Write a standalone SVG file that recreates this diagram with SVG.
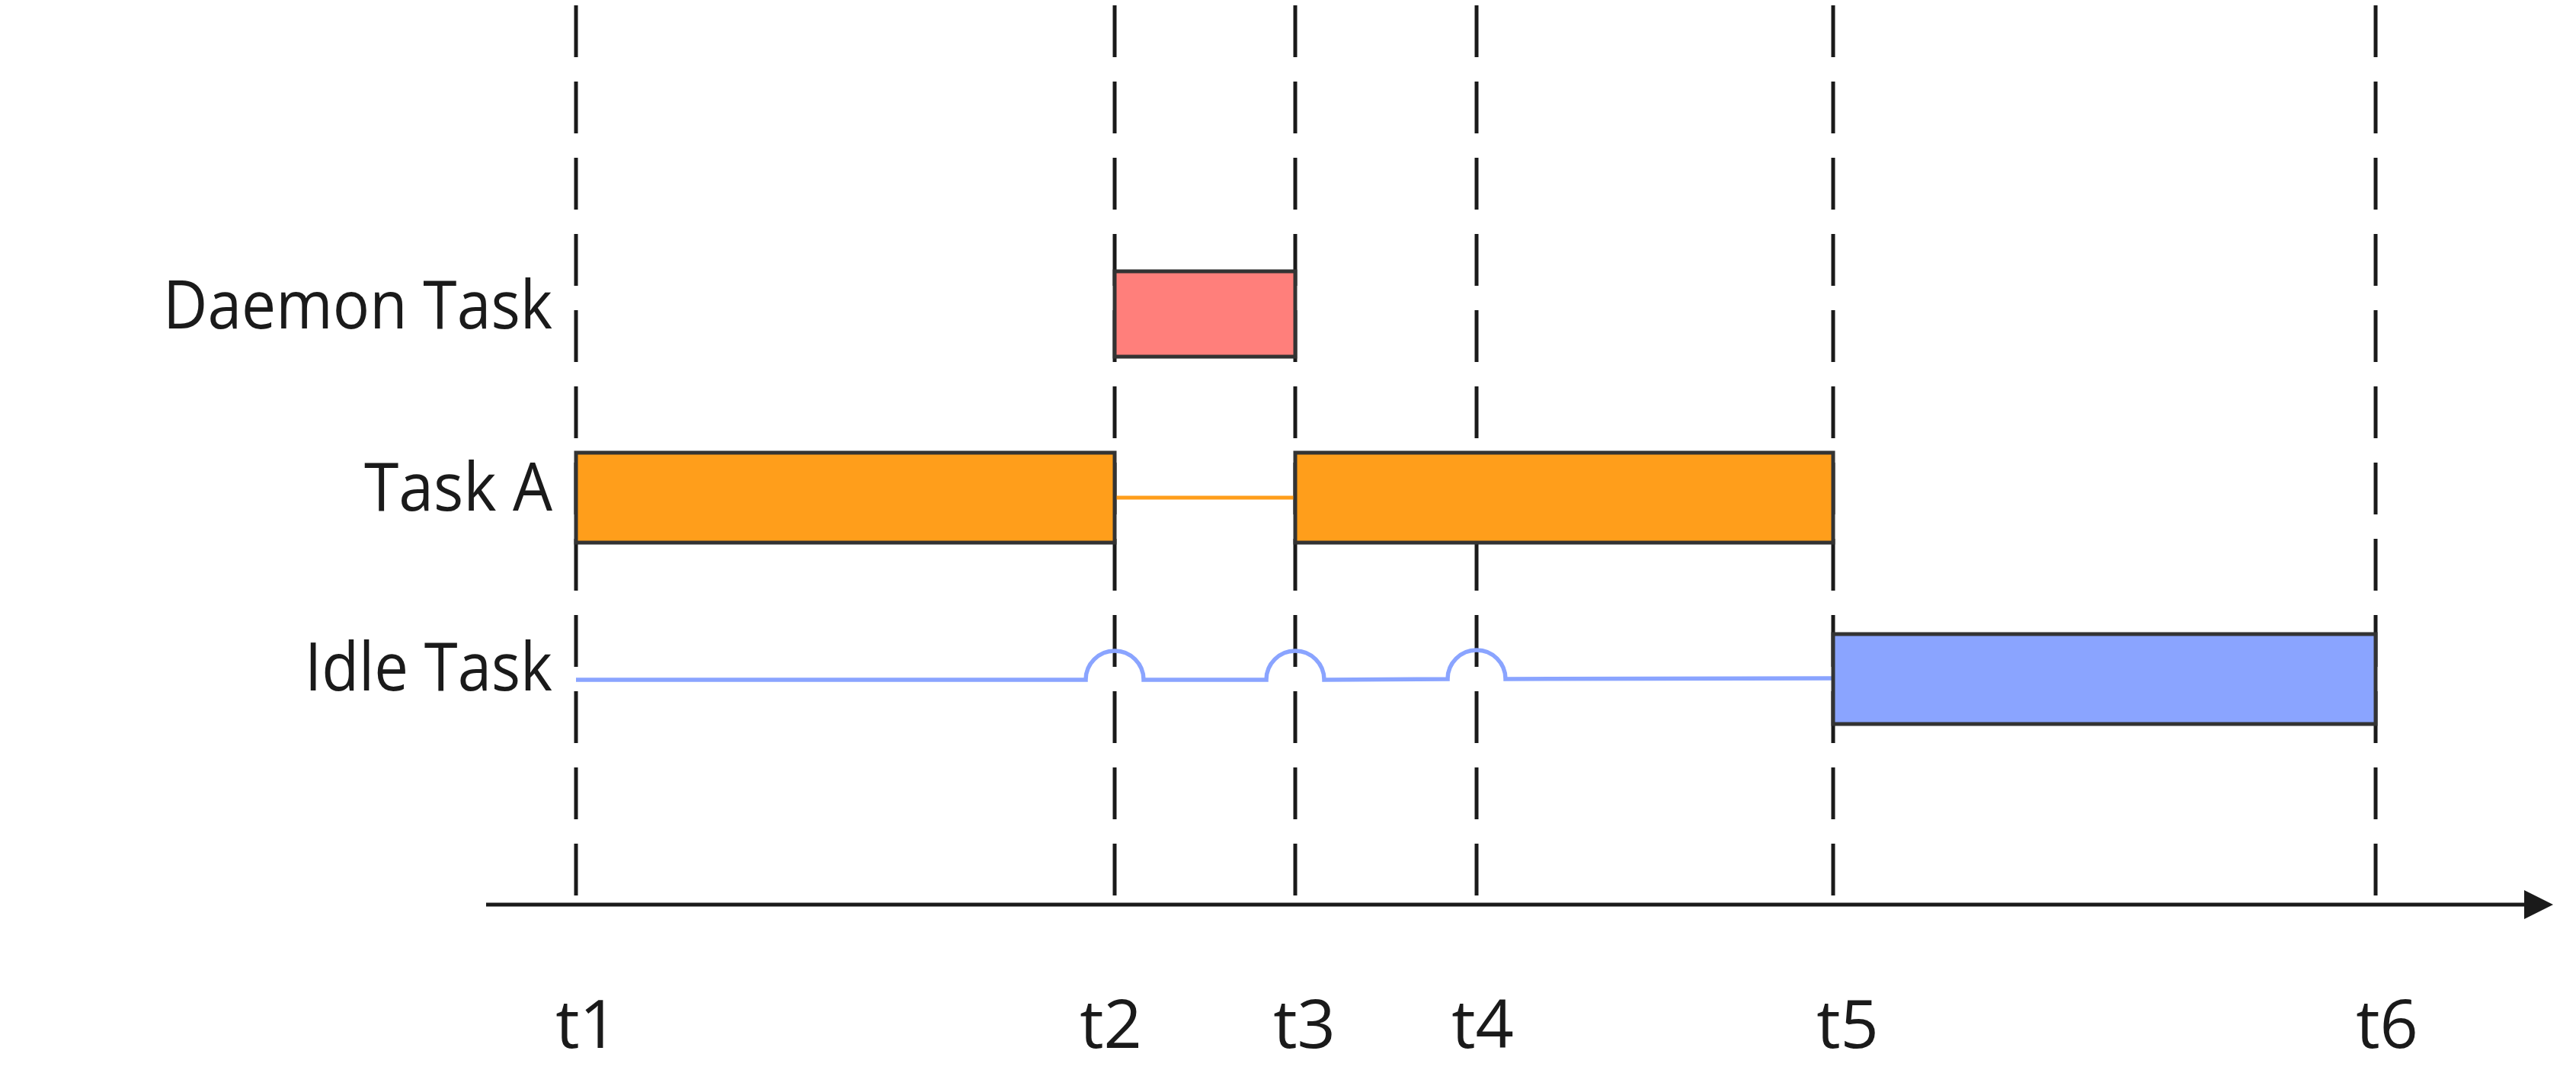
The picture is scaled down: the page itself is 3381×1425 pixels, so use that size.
<svg xmlns="http://www.w3.org/2000/svg" width="3381" height="1425" viewBox="0 0 3381 1425">
<style>
.lbl{font-family:"Open Sans","Noto Sans","Liberation Sans",sans-serif;font-size:88px;fill:#1a1a1a}
.grid{stroke:#1a1a1a;stroke-width:5;stroke-dasharray:68 32;fill:none}
.bar{stroke:#333333;stroke-width:5}
</style>
<rect x="0" y="0" width="3381" height="1425" fill="#ffffff"/>
<g id="gridlines">
<line class="grid" x1="756" y1="7" x2="756" y2="1175"/>
<line class="grid" x1="1463" y1="7" x2="1463" y2="1175"/>
<line class="grid" x1="1700" y1="7" x2="1700" y2="1175"/>
<line class="grid" x1="1938" y1="7" x2="1938" y2="1175"/>
<line class="grid" x1="2406" y1="7" x2="2406" y2="1175"/>
<line class="grid" x1="3118" y1="7" x2="3118" y2="1175"/>
</g>
<g id="connectors">
<line x1="1463" y1="653" x2="1700" y2="653" stroke="#FF9E1B" stroke-width="5"/>
<path d="M756 892 L1425 892 A38 38 0 0 1 1501 892 L1662 892 A38 38 0 0 1 1738 892 L1900 891 A38 38 0 0 1 1976 891 L2406 890" fill="none" stroke="#8AA4FF" stroke-width="5.5"/>
<line x1="638" y1="1187" x2="3315" y2="1187" stroke="#1a1a1a" stroke-width="5"/>
<polygon points="3313,1168 3351,1187 3313,1206" fill="#1a1a1a"/>
</g>
<g id="daemon-bar"><rect class="bar" x="1463" y="356" width="237" height="112" fill="#FF7F7B"/></g>
<g id="taskA-bar1"><rect class="bar" x="756" y="594" width="707" height="118" fill="#FF9E1B"/></g>
<g id="taskA-bar2"><rect class="bar" x="1700" y="594" width="706" height="118" fill="#FF9E1B"/></g>
<g id="idle-bar"><rect class="bar" x="2406" y="832" width="712" height="118" fill="#8AA4FF"/></g>
<g id="row-labels">
<text class="lbl" x="214" y="431" textLength="511" lengthAdjust="spacingAndGlyphs">Daemon Task</text>
<text class="lbl" x="478" y="670" textLength="247" lengthAdjust="spacingAndGlyphs">Task A</text>
<text class="lbl" x="400" y="906" textLength="325" lengthAdjust="spacingAndGlyphs">Idle Task</text>
</g>
<g id="time-labels">
<text class="lbl" x="770" y="1375" text-anchor="middle">t1</text>
<text class="lbl" x="1458" y="1375" text-anchor="middle">t2</text>
<text class="lbl" x="1712" y="1375" text-anchor="middle">t3</text>
<text class="lbl" x="1946" y="1375" text-anchor="middle">t4</text>
<text class="lbl" x="2425" y="1375" text-anchor="middle">t5</text>
<text class="lbl" x="3133" y="1375" text-anchor="middle">t6</text>
</g>
</svg>
